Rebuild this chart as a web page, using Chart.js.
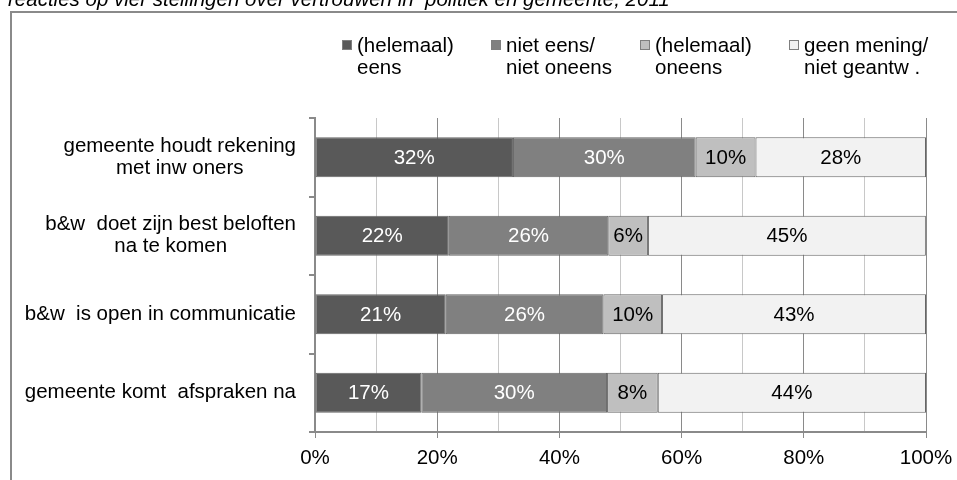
<!DOCTYPE html>
<html>
<head>
<meta charset="utf-8">
<script src="https://cdn.jsdelivr.net/npm/chart.js@4.4.0/dist/chart.umd.min.js"></script>
<style>
  html, body { margin: 0; padding: 0; background: #fff; }
  #wrap { width: 957px; height: 480px; }
</style>
</head>
<body>
<div id="wrap"><canvas id="chart" width="957" height="480"></canvas></div>
<script>
// data
const titleText = 'reacties op vier stellingen over vertrouwen in  politiek en gemeente, 2011';
const categories = [
    ['gemeente houdt rekening', 'met inw oners'],
    ['b&w  doet zijn best beloften', 'na te komen'],
    ['b&w  is open in communicatie'],
    ['gemeente komt  afspraken na']
];
const seriesNames = [
    ['(helemaal)', 'eens'],
    ['niet eens/', 'niet oneens'],
    ['(helemaal)', 'oneens'],
    ['geen mening/', 'niet geantw .']
];
const eens = [32.4, 21.9, 21.4, 17.4];
const neutraal = [29.9, 26.1, 25.8, 30.4];
const oneens = [9.8, 6.49, 9.6, 8.3];
const geenMening = [27.9, 45.49, 43.2, 43.9];
const xTicks = [0, 20, 40, 60, 80, 100];

const fills = ['#595959', '#808080', '#bfbfbf', '#f2f2f2'];
const labelColors = ['#ffffff', '#ffffff', '#000000', '#000000'];
const axisGray = '#8a8a8a';
const minorGray = '#c8c8c8';
const FONT = "'Liberation Sans', Arial, sans-serif";
const FONT_SIZE = 20.5;

Chart.defaults.font.family = FONT;
Chart.defaults.font.size = FONT_SIZE;
Chart.defaults.color = '#000';

// outer frame (runs off the right and bottom) + clipped title
const framePlugin = {
    id: 'frame',
    beforeDraw(chart) {
        const ctx = chart.ctx;
        ctx.save();
        ctx.fillStyle = '#fff';
        ctx.fillRect(0, 0, chart.width, chart.height);
        ctx.strokeStyle = axisGray;
        ctx.lineWidth = 2;
        ctx.strokeRect(11, 12, 1000, 500);
        ctx.fillStyle = '#000';
        ctx.font = `italic ${FONT_SIZE}px ${FONT}`;
        ctx.textBaseline = 'alphabetic';
        ctx.textAlign = 'left';
        ctx.fillText(titleText, 8, 6);
        ctx.restore();
    }
};

// two-line legend above the plot
const legendPlugin = {
    id: 'twoLineLegend',
    afterDraw(chart) {
        const ctx = chart.ctx;
        ctx.save();
        ctx.font = `${FONT_SIZE}px ${FONT}`;
        ctx.textBaseline = 'middle';
        ctx.textAlign = 'left';
        chart.data.datasets.forEach((ds, i) => {
            const x0 = 342 + i * 149;
            ctx.fillStyle = ds.backgroundColor;
            ctx.fillRect(x0, 40, 10, 10);
            ctx.strokeStyle = '#7f7f7f';
            ctx.lineWidth = 1;
            ctx.strokeRect(x0 + 0.5, 40.5, 9, 9);
            ctx.fillStyle = '#000';
            seriesNames[i].forEach((line, j) => {
                ctx.fillText(line, x0 + 15, 46 + j * 22);
            });
        });
        ctx.restore();
    }
};

// category labels: block right aligned, lines centred to each other
const categoryPlugin = {
    id: 'categoryLabels',
    afterDraw(chart) {
        const ctx = chart.ctx;
        const yScale = chart.scales.y;
        ctx.save();
        ctx.font = `${FONT_SIZE}px ${FONT}`;
        ctx.textBaseline = 'middle';
        ctx.textAlign = 'center';
        ctx.fillStyle = '#000';
        categories.forEach((lines, i) => {
            const yc = yScale.getPixelForTick(i);
            const widest = Math.max(...lines.map(l => ctx.measureText(l).width));
            const xc = 296 - widest / 2;
            lines.forEach((line, j) => {
                ctx.fillText(line, xc, yc + (j - (lines.length - 1) / 2) * 22);
            });
        });
        ctx.restore();
    }
};

// percentage labels inside the segments
const barLabelPlugin = {
    id: 'barLabels',
    afterDatasetsDraw(chart) {
        const ctx = chart.ctx;
        ctx.save();
        ctx.font = `${FONT_SIZE}px ${FONT}`;
        ctx.textBaseline = 'middle';
        ctx.textAlign = 'center';
        chart.data.datasets.forEach((ds, i) => {
            const meta = chart.getDatasetMeta(i);
            ctx.fillStyle = labelColors[i];
            meta.data.forEach((bar, j) => {
                const p = bar.getProps(['x', 'y', 'base'], true);
                ctx.fillText(Math.round(ds.data[j]) + '%', (p.x + p.base) / 2, p.y + 1);
            });
        });
        ctx.restore();
    }
};

const seriesData = [eens, neutraal, oneens, geenMening];

new Chart(document.getElementById('chart'), {
    type: 'bar',
    data: {
        labels: categories,
        datasets: seriesData.map((values, i) => ({
            label: seriesNames[i].join(' '),
            data: values,
            backgroundColor: fills[i],
            borderColor: '#666666',
            borderWidth: 1,
            borderSkipped: false,
            barPercentage: 0.51,
            categoryPercentage: 1
        }))
    },
    options: {
        indexAxis: 'y',
        responsive: false,
        animation: false,
        devicePixelRatio: 1,
        layout: { padding: { top: 118, right: 31, left: 0, bottom: 0 } },
        plugins: {
            legend: { display: false },
            title: { display: false },
            tooltip: { enabled: false }
        },
        scales: {
            x: {
                stacked: true,
                min: 0,
                max: 100,
                afterFit(scale) {
                    scale.height = 48;
                    scale.paddingLeft = 0;
                    scale.paddingRight = 0;
                },
                ticks: {
                    stepSize: 10,
                    autoSkip: false,
                    maxRotation: 0,
                    padding: 8,
                    color: '#000',
                    callback: v => xTicks.includes(v) ? v + '%' : ''
                },
                grid: {
                    color: c => (c.tick && c.tick.value % 20 === 0) ? axisGray : minorGray,
                    tickColor: c => (c.tick && c.tick.value % 20 === 0) ? axisGray : 'rgba(0,0,0,0)',
                    tickLength: 6,
                    lineWidth: 1
                },
                border: { color: axisGray, width: 2 }
            },
            y: {
                stacked: true,
                afterFit(scale) { scale.width = 315; },
                ticks: { display: false },
                grid: {
                    drawOnChartArea: false,
                    drawTicks: true,
                    tickLength: 6,
                    color: axisGray,
                    tickColor: axisGray,
                    lineWidth: 2
                },
                border: { color: axisGray, width: 2 }
            }
        }
    },
    plugins: [framePlugin, legendPlugin, categoryPlugin, barLabelPlugin]
});
</script>
</body>
</html>
